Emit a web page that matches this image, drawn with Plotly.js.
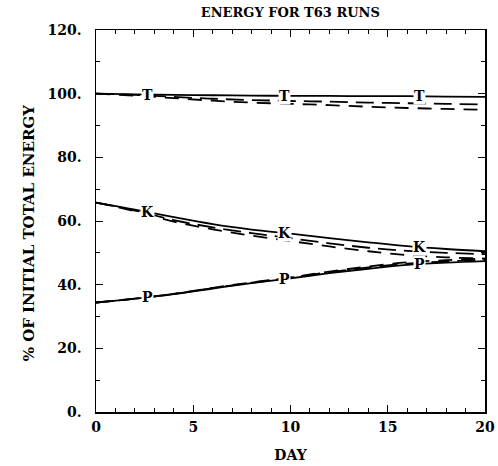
<!DOCTYPE html>
<html><head><meta charset="utf-8">
<script src="https://cdn.plot.ly/plotly-3.0.1.min.js"></script>
<style>html,body{margin:0;padding:0;background:#fff}#chart{width:498px;height:466px}</style>
</head><body><div id="chart"></div>
<script>
var days = [0, 2, 4, 6, 8, 10, 12, 14, 16, 18, 20];
var T_run1 = [100, 99.8, 99.6, 99.5, 99.4, 99.3, 99.3, 99.2, 99.2, 99.1, 99.0];
var T_run2 = [100, 99.6, 99.0, 98.4, 98.0, 97.7, 97.5, 97.2, 97.0, 96.8, 96.6];
var T_run3 = [100, 99.4, 98.6, 97.8, 97.2, 96.8, 96.4, 95.9, 95.5, 95.2, 94.9];
var K_run1 = [65.8, 63.6, 61.2, 59.0, 57.3, 56.0, 54.6, 53.3, 52.1, 51.2, 50.5];
var K_run2 = [65.8, 63.3, 60.3, 58.0, 56.2, 54.6, 53.0, 51.6, 50.6, 50.0, 49.6];
var K_run3 = [65.8, 63.1, 59.8, 57.4, 55.4, 53.7, 52.0, 50.5, 49.3, 48.6, 48.2];
var P_run1 = [34.4, 35.6, 37.0, 38.8, 40.5, 42.0, 43.6, 45.0, 46.2, 46.9, 47.4];
var P_run2 = [34.4, 35.6, 37.1, 38.9, 40.6, 42.2, 43.9, 45.4, 46.6, 47.3, 47.8];
var P_run3 = [34.4, 35.6, 37.1, 39.0, 40.7, 42.3, 44.1, 45.7, 47.0, 47.7, 48.2];
var labelDays = [2.65, 9.7, 16.65];
var curveLetters = ["T", "K", "P"];
var yTickVals = [0, 20, 40, 60, 80, 100, 120];
var yTickText = ["0.", "20.", "40.", "60.", "80.", "100.", "120."];
var xTickVals = [0, 5, 10, 15, 20];
var xTickText = ["0", "5", "10", "15", "20"];

var FONT = "DejaVu Serif, Liberation Serif, serif";
function interp(xs, ys, x) {
  for (var i = 0; i < xs.length - 1; i++) {
    if (x >= xs[i] && x <= xs[i + 1]) {
      var t = (x - xs[i]) / (xs[i + 1] - xs[i]);
      return ys[i] + t * (ys[i + 1] - ys[i]);
    }
  }
  return ys[ys.length - 1];
}
function bold(arr) { return arr.map(function (s) { return "<b>" + s + "</b>"; }); }
var styles = [
  {dash: "solid", width: 1.8},
  {dash: "18px,8px", width: 1.8},
  {dash: "14px,9px", width: 1.8}
];
var groups = [[T_run1, T_run2, T_run3], [K_run1, K_run2, K_run3], [P_run1, P_run2, P_run3]];
var traces = [];
groups.forEach(function (g) {
  g.forEach(function (ys, j) {
    traces.push({x: days, y: ys, mode: "lines", type: "scatter", hoverinfo: "skip",
      line: {color: "#000", width: styles[j].width, dash: styles[j].dash, shape: "spline"}});
  });
});
var annotations = [];
groups.forEach(function (g, gi) {
  labelDays.forEach(function (d) {
    annotations.push({x: d, y: interp(days, g[0], d), xref: "x", yref: "y", text: "<b>" + curveLetters[gi] + "</b>",
      showarrow: false, font: {family: FONT, size: 14, color: "#000"}, bgcolor: "#fff", borderpad: 0});
  });
});
annotations.push({xref: "paper", yref: "paper", x: -0.17, y: 0.47, xanchor: "center", yanchor: "middle",
  textangle: -90, showarrow: false, text: "<b>% OF INITIAL TOTAL ENERGY</b>",
  font: {family: FONT, size: 15, color: "#000"}});
var axisCommon = {showgrid: false, zeroline: false, showline: true, linecolor: "#000", linewidth: 1.5,
  mirror: "ticks", ticks: "inside", tickcolor: "#000", tickwidth: 1, ticklen: 7,
  tickfont: {family: FONT, size: 14, color: "#000"}};
var layout = {
  width: 498, height: 466, paper_bgcolor: "#fff", plot_bgcolor: "#fff", showlegend: false,
  margin: {l: 96, r: 13, t: 30, b: 54},
  title: {text: "<b>ENERGY FOR T63 RUNS</b>", font: {family: FONT, size: 13, color: "#000"}, x: 0.583, xanchor: "center", y: 0.973, yanchor: "middle"},
  xaxis: Object.assign({}, axisCommon, {range: [0, 20], tickvals: xTickVals, ticktext: bold(xTickText),
    ticklabelstandoff: 2,
    minor: {dtick: 1, ticks: "inside", ticklen: 4, tickcolor: "#000"},
    title: {text: "<b>DAY</b>", font: {family: FONT, size: 14, color: "#000"}, standoff: 16}}),
  yaxis: Object.assign({}, axisCommon, {range: [0, 120], tickvals: yTickVals, ticktext: bold(yTickText),
    ticklabelstandoff: 10,
    minor: {dtick: 10, ticks: "inside", ticklen: 4, tickcolor: "#000"}}),
  annotations: annotations
};
Plotly.newPlot("chart", traces, layout, {staticPlot: true, displayModeBar: false});
</script></body></html>
